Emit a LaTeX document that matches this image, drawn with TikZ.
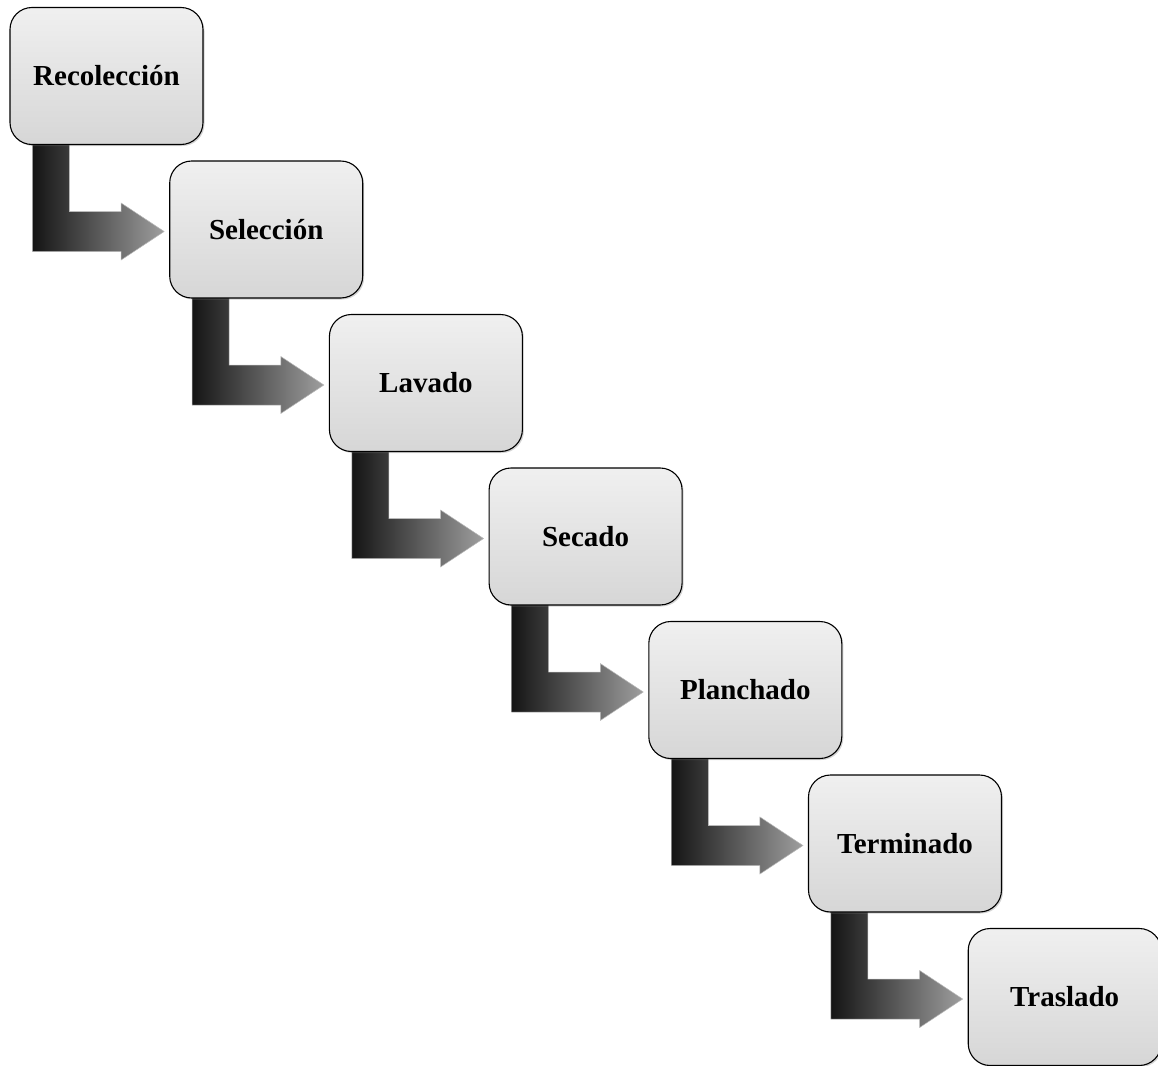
\documentclass[tikz,border=0pt]{standalone}
\usepackage{fontspec}
\setmainfont{Liberation Serif}
\usetikzlibrary{calc,backgrounds,shadows}
\tikzset{
  stagebox/.style={draw=black, line width=1.1pt, rounded corners=22pt,
    minimum width=193pt, minimum height=137pt, inner sep=0pt,
    top color=gray!12, bottom color=gray!32,
    drop shadow={shadow xshift=1.5pt, shadow yshift=-1.5pt, opacity=0.35},
    font=\fontsize{29}{34}\selectfont\bfseries},
  bentarrow/.style={draw=gray!55, line width=0.5pt, left color=black!92, right color=black!38}
}
\newcommand{\bentarr}[2]{%
  \path[bentarrow] let \p1=(#1.south west), \p2=(#2.west) in
    (\x1+23pt,\y1+4pt) -- (\x1+60pt,\y1+4pt) -- (\x1+60pt,\y2+18pt)
    -- (\x2-48pt,\y2+18pt) -- (\x2-48pt,\y2+26.5pt) -- (\x2-5pt,\y2-2pt)
    -- (\x2-48pt,\y2-30.5pt) -- (\x2-48pt,\y2-22pt) -- (\x1+23pt,\y2-22pt) -- cycle;}
\begin{document}
\begin{tikzpicture}[x=1pt,y=-1pt]
\useasboundingbox (0,0) rectangle (1158,1065);
\node[stagebox] (b1) at (106.5,76) {Recolección};
\node[stagebox] (b2) at (266.2,229.5) {Selección};
\node[stagebox] (b3) at (425.9,383) {Lavado};
\node[stagebox] (b4) at (585.6,536.5) {Secado};
\node[stagebox] (b5) at (745.3,690) {Planchado};
\node[stagebox] (b6) at (905.0,843.5) {Terminado};
\node[stagebox] (b7) at (1064.7,997) {Traslado};
\begin{scope}[on background layer]
\bentarr{b1}{b2}
\bentarr{b2}{b3}
\bentarr{b3}{b4}
\bentarr{b4}{b5}
\bentarr{b5}{b6}
\bentarr{b6}{b7}
\end{scope}
\end{tikzpicture}
\end{document}
